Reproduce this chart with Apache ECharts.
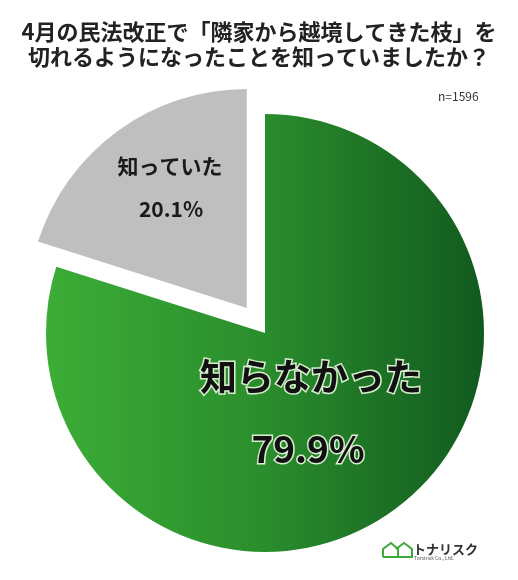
<!DOCTYPE html>
<html><head><meta charset="utf-8">
<script src="https://cdn.jsdelivr.net/npm/echarts@6/dist/echarts.min.js"></script>
<style>html,body{margin:0;padding:0;background:#fff}#c{width:518px;height:580px}</style>
</head><body><div id="c"></div>
<script>
var categories = ['知らなかった', '知っていた'];
var values = [79.9, 20.1];
var titleLines = ['4月の民法改正で「隣家から越境してきた枝」を', '切れるようになったことを知っていましたか？'];
var sampleNote = 'n=1596';

var FONT = '"Noto Sans CJK JP", "Noto Sans", sans-serif';
var chart = echarts.init(document.getElementById('c'), null, {renderer: 'canvas'});

var green = new echarts.graphic.LinearGradient(0, 0, 1, 0, [
  {offset: 0, color: '#3cad36'},
  {offset: 0.5, color: '#2a8d2c'},
  {offset: 1, color: '#115a1f'}
]);

chart.setOption({
  animation: false,
  backgroundColor: '#ffffff',
  title: {
    text: titleLines.join('\n'),
    left: 'center', top: 14,
    textStyle: {fontFamily: FONT, fontSize: 22, fontWeight: 'bold', color: '#222', lineHeight: 25}
  },
  series: [{
    type: 'pie',
    center: [265, 333],
    radius: 219,
    startAngle: 90,
    clockwise: true,
    selectedMode: 'single',
    selectedOffset: 31,
    label: {show: false},
    labelLine: {show: false},
    emphasis: {disabled: true},
    data: [
      {name: categories[0], value: values[0], itemStyle: {color: green}},
      {name: categories[1], value: values[1], selected: true, itemStyle: {color: '#bfbfbf'}}
    ]
  }],
  graphic: {
    elements: [
      {type: 'text', z: 100, left: 438, top: 90, style: {text: sampleNote, font: '12px ' + FONT, fill: '#333'}},
      {type: 'text', z: 100, x: 170, y: 166, style: {text: categories[1], font: 'bold 21px ' + FONT, fill: '#1a1a1a', align: 'center', verticalAlign: 'middle'}},
      {type: 'text', z: 100, x: 171, y: 209, style: {text: values[1].toFixed(1) + '%', font: 'bold 21px ' + FONT, fill: '#1a1a1a', align: 'center', verticalAlign: 'middle'}},
      {type: 'text', z: 100, x: 311, y: 377, style: {text: categories[0], font: 'bold 37px ' + FONT, fill: '#111', stroke: '#d6efcf', lineWidth: 3, align: 'center', verticalAlign: 'middle'}},
      {type: 'text', z: 100, x: 308, y: 449, style: {text: values[0].toFixed(1) + '%', font: 'bold 37px ' + FONT, fill: '#111', stroke: '#d6efcf', lineWidth: 3, align: 'center', verticalAlign: 'middle'}},
      {type: 'polyline', z: 100, shape: {points: [[383,557],[383,549],[391,543],[398,549],[398,557],[383,557]]}, style: {stroke: '#3ca93a', lineWidth: 2, fill: null}},
      {type: 'polyline', z: 100, shape: {points: [[396,549],[404,543],[412,549],[412,557],[396,557]]}, style: {stroke: '#3ca93a', lineWidth: 2, fill: null}},
      {type: 'text', z: 100, x: 413, y: 549, style: {text: 'トナリスク', font: 'bold 13px ' + FONT, fill: '#333', verticalAlign: 'middle'}},
      {type: 'text', z: 100, x: 414, y: 558, style: {text: 'Tonarisk Co., Ltd.', font: '5px ' + FONT, fill: '#555', verticalAlign: 'middle'}}
    ]
  }
});
</script></body></html>
